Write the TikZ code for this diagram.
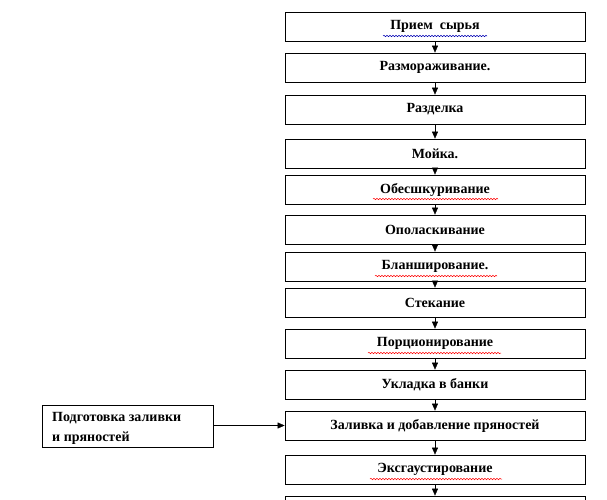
\documentclass[tikz,border=0pt]{standalone}
\usepackage{fontspec}
\setmainfont{Liberation Serif}
\usetikzlibrary{arrows.meta,decorations.pathmorphing}
\begin{document}
\begin{tikzpicture}[x=1pt,y=-1pt,
 stepbox/.style={draw,thick,minimum width=300pt,minimum height=29pt,font=\bfseries\fontsize{14}{15}\selectfont,inner sep=0pt},
 arr/.style={-{Triangle[length=7pt,width=6pt]},thin},
 wavy/.style={decorate,decoration={snake,amplitude=0.7pt,segment length=3pt},line width=0.5pt}]
\useasboundingbox (0,0) rectangle (607,499);
\def\ys{{26.5,67.5,109.5,153.5,189.5,229.5,266.5,302.5,343.5,384.5,425.5,469.5}}
\foreach \t [count=\i] in {Прием\ \ сырья,Размораживание.,Разделка,Мойка.,Обесшкуривание,Ополаскивание,Бланширование.,Стекание,Порционирование,Укладка в банки,Заливка и добавление пряностей,Эксгаустирование}{
 \pgfmathsetmacro\yy{\ys[\i-1]}
 \node[stepbox] (b\i) at (435,\yy) {\t};
}
\node[draw,thick,minimum width=300pt,minimum height=29pt] (b13) at (435,510.5) {};
\foreach \i [evaluate=\i as \j using int(\i+1)] in {1,...,12}{\draw[arr] (b\i) -- (b\j);}
\node[draw,thick,minimum width=171pt,minimum height=42pt,inner sep=0pt] (p) at (127.5,426) {};
\node[anchor=north west,align=left,font=\bfseries\fontsize{14}{20}\selectfont,inner sep=0pt] (pt) at (52,412) {Подготовка заливки\\и пряностей};
\draw[arr] (p.east |- b11) -- (b11.west);
\draw[blue!70!black,wavy] (383,36) -- (487,36);
\draw[red,wavy] (373,199) -- (498,199);
\draw[red,wavy] (375,276) -- (497,276);
\draw[red,wavy] (368,353) -- (501,353);
\draw[red,wavy] (370,479) -- (502,479);
\end{tikzpicture}
\end{document}
